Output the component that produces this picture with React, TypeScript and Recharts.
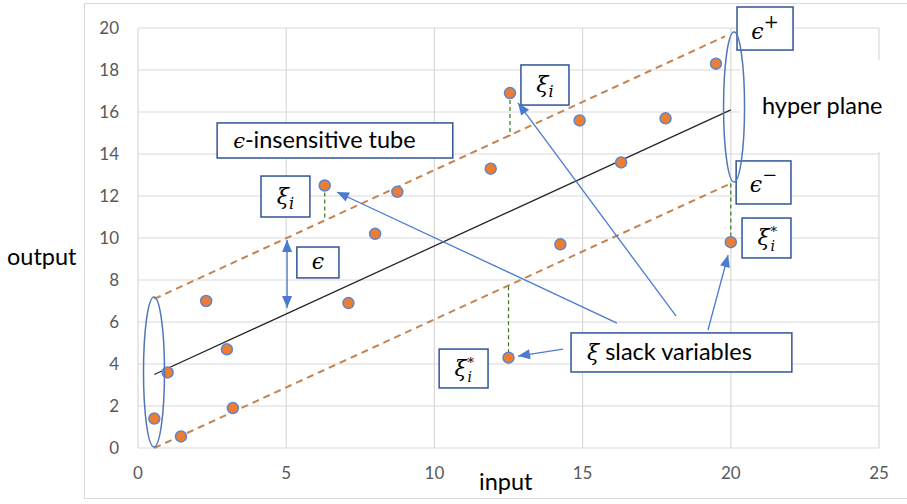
import React from 'react';
import {
  ScatterChart,
  Scatter,
  XAxis,
  YAxis,
  CartesianGrid,
  ReferenceLine,
  ReferenceArea,
  ReferenceDot,
} from 'recharts';

// observed samples
const samples = [
  { x: 0.55, y: 1.4 },
  { x: 1.0, y: 3.6 },
  { x: 1.45, y: 0.55 },
  { x: 2.3, y: 7.0 },
  { x: 3.0, y: 4.7 },
  { x: 3.2, y: 1.9 },
  { x: 6.3, y: 12.5 },
  { x: 7.1, y: 6.9 },
  { x: 8.0, y: 10.2 },
  { x: 8.75, y: 12.2 },
  { x: 11.9, y: 13.3 },
  { x: 12.5, y: 4.3 },
  { x: 12.55, y: 16.9 },
  { x: 14.25, y: 9.7 },
  { x: 14.9, y: 15.6 },
  { x: 16.3, y: 13.6 },
  { x: 17.8, y: 15.7 },
  { x: 19.5, y: 18.3 },
  { x: 20.0, y: 9.8 },
];

// regression line and the epsilon tube
const hyperPlane = [{ x: 0.55, y: 3.5 }, { x: 20.0, y: 16.1 }];
const tubeUpper = [{ x: 0.55, y: 7.1 }, { x: 19.8, y: 19.6 }];
const tubeLower = [{ x: 0.55, y: 0.0 }, { x: 20.0, y: 12.6 }];

// slack distances (point -> tube edge)
const slacks = [
  { x: 6.3, from: 12.5, to: 10.85 },
  { x: 12.55, from: 16.9, to: 14.85 },
  { x: 12.5, from: 7.7, to: 4.3 },
  { x: 20.0, from: 12.6, to: 9.8 },
];

const xTicks = [0, 5, 10, 15, 20, 25];
const yTicks = [0, 2, 4, 6, 8, 10, 12, 14, 16, 18, 20];

// annotation callouts, in data units
const arrows = [
  { x1: 16.16, y1: 5.95, x2: 6.71, y2: 12.19, both: false },
  { x1: 18.15, y1: 6.29, x2: 12.82, y2: 16.43, both: false },
  { x1: 19.23, y1: 5.62, x2: 19.91, y2: 9.19, both: false },
  { x1: 14.34, y1: 4.71, x2: 12.82, y2: 4.38, both: false },
  { x1: 5.03, y1: 9.9, x2: 5.03, y2: 6.67, both: true },
];

const boxes = [
  { id: 'tube', x1: 2.67, x2: 10.62, y1: 13.81, y2: 15.48 },
  { id: 'xi', x1: 4.15, x2: 5.8, y1: 11.0, y2: 12.95 },
  { id: 'eps', x1: 5.36, x2: 6.78, y1: 8.1, y2: 9.57 },
  { id: 'xi', x1: 12.92, x2: 14.54, y1: 16.33, y2: 18.24 },
  { id: 'epsPlus', x1: 20.21, x2: 22.1, y1: 18.95, y2: 21.0 },
  { id: 'epsMinus', x1: 20.18, x2: 22.03, y1: 11.62, y2: 13.67 },
  { id: 'xiStar', x1: 20.38, x2: 22.03, y1: 9.05, y2: 10.95 },
  { id: 'xiStar', x1: 10.16, x2: 11.81, y1: 2.86, y2: 4.71 },
  { id: 'slack', x1: 14.61, x2: 22.06, y1: 3.62, y2: 5.48 },
];

const ellipses = [
  { x: 0.54, y: 3.62 },
  { x: 20.11, y: 16.24 },
];

const MATH = "'DejaVu Serif', 'Liberation Serif', serif";
const SANS = "Lato, 'Open Sans', sans-serif";
const BLUE = '#4A7BD0';
const LABEL = 23.5;

function Arrow(props: any) {
  const { x1, y1, x2, y2, both } = props;
  const head = (ax: number, ay: number, bx: number, by: number) => {
    const a = Math.atan2(by - ay, bx - ax);
    const len = 12, half = 5;
    const px = bx - len * Math.cos(a), py = by - len * Math.sin(a);
    const nx = -Math.sin(a) * half, ny = Math.cos(a) * half;
    return <polygon points={`${bx},${by} ${px + nx},${py + ny} ${px - nx},${py - ny}`} fill={BLUE} />;
  };
  return (
    <g>
      <line x1={x1} y1={y1} x2={x2} y2={y2} stroke={BLUE} strokeWidth={1.3} />
      {head(x1, y1, x2, y2)}
      {both && head(x2, y2, x1, y1)}
    </g>
  );
}

function boxText(id: string, x: number, y: number, w: number, h: number) {
  const cx = x + w / 2;
  const base = y + h / 2 + 7;
  switch (id) {
    case 'tube':
      return (
        <text x={x + 16} y={base + 1} fontFamily={SANS} fontSize={LABEL} fill="#000">
          <tspan fontFamily={MATH} fontStyle="italic" fontSize={21}>ϵ</tspan>-insensitive tube
        </text>
      );
    case 'slack':
      return (
        <text x={x + 16} y={base + 1} fontFamily={SANS} fontSize={LABEL} fill="#000">
          <tspan fontFamily={MATH} fontStyle="italic" fontSize={22}>ξ</tspan> slack variables
        </text>
      );
    case 'xi':
      return (
        <text x={cx} y={base} textAnchor="middle" fontFamily={MATH} fontStyle="italic" fontSize={22} fill="#000">
          ξ<tspan fontSize={16} dy={5}>i</tspan>
        </text>
      );
    case 'eps':
      return (
        <text x={cx} y={base} textAnchor="middle" fontFamily={MATH} fontStyle="italic" fontSize={22} fill="#000">
          ϵ
        </text>
      );
    case 'epsPlus':
    case 'epsMinus':
      return (
        <text x={cx} y={base + 3} textAnchor="middle" fontFamily={MATH} fontStyle="italic" fontSize={22} fill="#000">
          ϵ<tspan fontStyle="normal" fontSize={18} dy={-11}>{id === 'epsPlus' ? '+' : '−'}</tspan>
        </text>
      );
    case 'xiStar':
      // ξ with stacked sub i and super *
      return (
        <g fontFamily={MATH} fontStyle="italic" fill="#000">
          <text x={cx - 3} y={base} textAnchor="middle" fontSize={22}>ξ</text>
          <text x={cx + 4} y={base - 9} fontSize={13} fontStyle="normal">*</text>
          <text x={cx + 4} y={base + 6} fontSize={14}>i</text>
        </g>
      );
    default:
      return null;
  }
}

const point = (p: any) => (
  <circle cx={p.cx} cy={p.cy} r={5.5} fill="#ED7D31" stroke="#5B86D0" strokeWidth={1.5} />
);

export default function App() {
  return (
    <div style={{ position: 'absolute', left: 0, top: 0, width: 907, height: 504, background: '#fff', overflow: 'hidden' }}>
      <div style={{ position: 'absolute', left: 84, top: 3, width: 830, height: 496, border: '1px solid #D9D9D9', boxSizing: 'border-box' }} />
      <div style={{ position: 'absolute', left: 7, top: 242, fontFamily: SANS, fontSize: LABEL, lineHeight: '28px', color: '#000' }}>output</div>
      <div style={{ position: 'absolute', left: 479, top: 467, fontFamily: SANS, fontSize: LABEL, lineHeight: '28px', color: '#000' }}>input</div>
      <div style={{ position: 'absolute', left: 0, top: 0 }}>
        <ScatterChart width={907} height={504} margin={{ top: 28, right: 28, bottom: 26, left: 98 }}>
          <CartesianGrid stroke="#D9D9D9" strokeWidth={1.2} />
          <XAxis
            type="number"
            dataKey="x"
            domain={[0, 25]}
            ticks={xTicks}
            height={30}
            axisLine={false}
            tickLine={false}
            tickSize={0}
            tickMargin={19}
            tick={{ fill: '#595959', fontSize: 17, fontFamily: SANS }}
          />
          <YAxis
            type="number"
            dataKey="y"
            domain={[0, 20]}
            ticks={yTicks}
            width={40}
            axisLine={false}
            tickLine={false}
            tickSize={0}
            tickMargin={19}
            tick={{ fill: '#595959', fontSize: 17, fontFamily: SANS }}
          />
          {/* white patch behind the "hyper plane" caption */}
          <ReferenceArea
            x1={20.3}
            x2={26}
            y1={14.1}
            y2={18.48}
            ifOverflow="visible"
            shape={(p: any) => (
              <g>
                <rect x={p.x} y={p.y} width={p.width} height={p.height} fill="#fff" />
                <text x={762} y={p.y + p.height / 2 + 8} fontFamily={SANS} fontSize={LABEL} fill="#000">hyper plane</text>
              </g>
            )}
          />
          <ReferenceLine segment={tubeUpper} stroke="#C5834F" strokeWidth={2} strokeDasharray="7 5" ifOverflow="visible" />
          <ReferenceLine segment={tubeLower} stroke="#C5834F" strokeWidth={2} strokeDasharray="7 5" ifOverflow="visible" />
          <ReferenceLine segment={hyperPlane} stroke="#262626" strokeWidth={1.3} ifOverflow="visible" />
          {slacks.map((s, i) => (
            <ReferenceLine
              key={`s${i}`}
              segment={[{ x: s.x, y: s.from }, { x: s.x, y: s.to }]}
              stroke="#38761D"
              strokeWidth={1.2}
              strokeDasharray="4 3"
              ifOverflow="visible"
            />
          ))}
          <Scatter data={samples} shape={point} isAnimationActive={false} />
          {ellipses.map((e, i) => (
            <ReferenceDot
              key={`e${i}`}
              x={e.x}
              y={e.y}
              ifOverflow="visible"
              shape={(p: any) => <ellipse cx={p.cx} cy={p.cy} rx={10.5} ry={75} fill="none" stroke="#4F76B8" strokeWidth={1.5} />}
            />
          ))}
          {arrows.map((a, i) => (
            <ReferenceLine
              key={`a${i}`}
              segment={[{ x: a.x1, y: a.y1 }, { x: a.x2, y: a.y2 }]}
              ifOverflow="visible"
              shape={(p: any) => <Arrow {...p} both={a.both} />}
            />
          ))}
          {boxes.map((b, i) => (
            <ReferenceArea
              key={`b${i}`}
              x1={b.x1}
              x2={b.x2}
              y1={b.y1}
              y2={b.y2}
              ifOverflow="visible"
              shape={(p: any) => (
                <g>
                  <rect x={p.x} y={p.y} width={p.width} height={p.height} fill="#fff" stroke="#2F5597" strokeWidth={1.5} />
                  {boxText(b.id, p.x, p.y, p.width, p.height)}
                </g>
              )}
            />
          ))}
        </ScatterChart>
      </div>
    </div>
  );
}
